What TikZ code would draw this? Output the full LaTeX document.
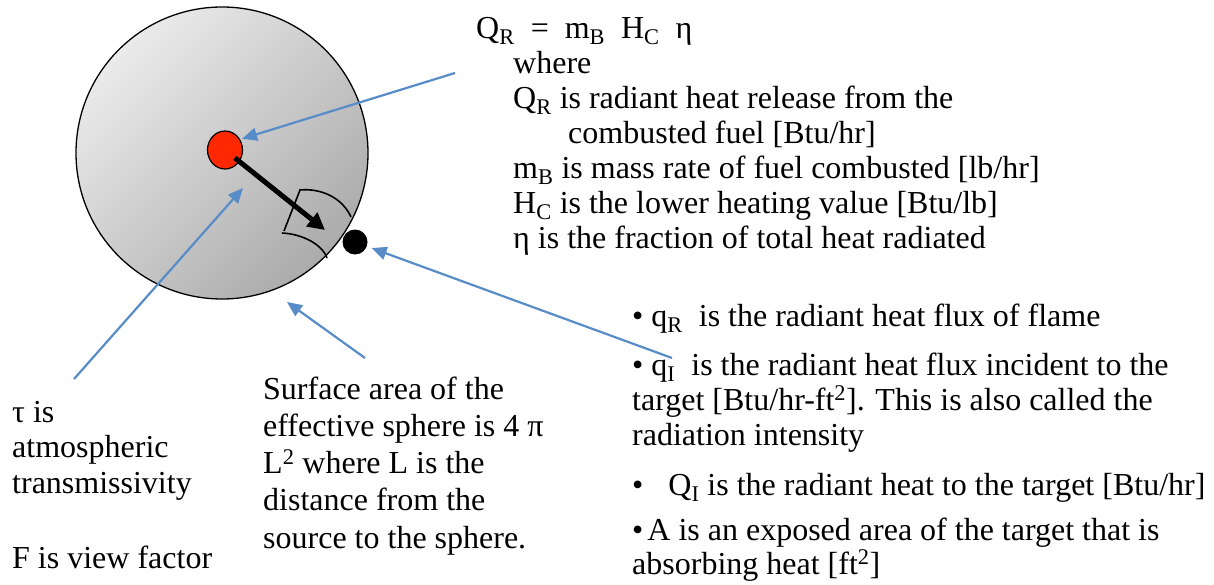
\documentclass[tikz,border=0pt]{standalone}
\usepackage{fontspec}
\setmainfont{Liberation Serif}
\usepackage{tikz}
\usetikzlibrary{arrows.meta, shapes.geometric}
\usepackage{xcolor}
\definecolor{pointblue}{RGB}{88,140,200}
\definecolor{flamered}{RGB}{255,40,0}

\begin{document}
\begin{tikzpicture}[x=1pt, y=-1pt,
        pointer/.style={draw=pointblue, line width=2.2pt, -{Triangle[length=15pt, width=13pt]}},
        txt/.style={anchor=base west, inner sep=0pt, align=left, font=\fontsize{32}{34.9}\selectfont}]
        \useasboundingbox (0,0) rectangle (1214,585);

        \node[circle, draw, line width=1.3pt, minimum size=292pt, top color=black!8, bottom color=black!33, shading angle=45] (sphere) at (222,153) {};
        \node[ellipse, draw, line width=1.2pt, fill=flamered, minimum width=35pt, minimum height=38pt, inner sep=0pt] (flame) at (225,150) {};
        \node[circle, fill=black, minimum size=25pt, inner sep=0pt] (target) at (355,242) {};

        \coordinate (rtip) at (325,230);
        \draw[line width=5pt, -{Triangle[length=17pt, width=17pt]}, shorten <=-6pt] (flame) -- (rtip);
        \draw[line width=1.6pt] (351,217) .. controls (342,197) and (320,188) .. (300,190) -- (284,231);
        \draw[line width=1.6pt] (282,233) .. controls (302,234) and (322,244) .. (327,258);

        \coordinate (qrtail) at (455,73);
        \coordinate (tautail) at (74,379);
        \coordinate (tautip) at (243,188);
        \coordinate (areatail) at (365,358);
        \coordinate (areatip) at (287,302);
        \coordinate (qitail) at (672,358);
        \draw[pointer, shorten >=2pt] (qrtail) -- (flame.35);
        \draw[pointer] (tautail) -- (tautip);
        \draw[pointer] (areatail) -- (areatip);
        \draw[pointer, shorten >=5pt] (qitail) -- (target);

        \node[txt] (qrdef) at (476,248) {Q\textsubscript{R}\ \ =\ \ m\textsubscript{B}\ \ H\textsubscript{C}\ \ η\\
            \hspace*{37pt}where\\
            \hspace*{37pt}Q\textsubscript{R} is radiant heat release from the\\
            \hspace*{92pt}combusted fuel [Btu/hr]\\
            \hspace*{37pt}m\textsubscript{B} is mass rate of fuel combusted [lb/hr]\\
            \hspace*{37pt}H\textsubscript{C} is the lower heating value [Btu/lb]\\
            \hspace*{37pt}η is the fraction of total heat radiated};

        \node[txt, font=\fontsize{32}{35.5}\selectfont] (taudef) at (12,493) {τ is\\atmospheric\\transmissivity};
        \node[txt] (fdef) at (12,568) {F is view factor};
        \node[txt, font=\fontsize{32}{37.25}\selectfont] (areadef) at (263,548) {Surface area of the\\effective sphere is 4 π\\L\textsuperscript{2} where L is the\\distance from the\\source to the sphere.};

        \node[txt] (qrflux) at (632,326) {\textbullet\ q\textsubscript{R}\ \ is the radiant heat flux of flame};
        \node[txt, font=\fontsize{32}{35}\selectfont] (qiflux) at (632,445) {\textbullet\ q\textsubscript{I}\ \ is the radiant heat flux incident to the\\target [Btu/hr-ft\textsuperscript{2}]. This is also called the\\radiation intensity};
        \node[txt] (qiheat) at (632,495) {\textbullet\hspace{25pt}Q\textsubscript{I} is the radiant heat to the target [Btu/hr]};
        \node[txt, font=\fontsize{32}{34}\selectfont] (areaexp) at (632,574) {\textbullet\hspace{4pt}A is an exposed area of the target that is\\absorbing heat [ft\textsuperscript{2}]};
\end{tikzpicture}
\end{document}
